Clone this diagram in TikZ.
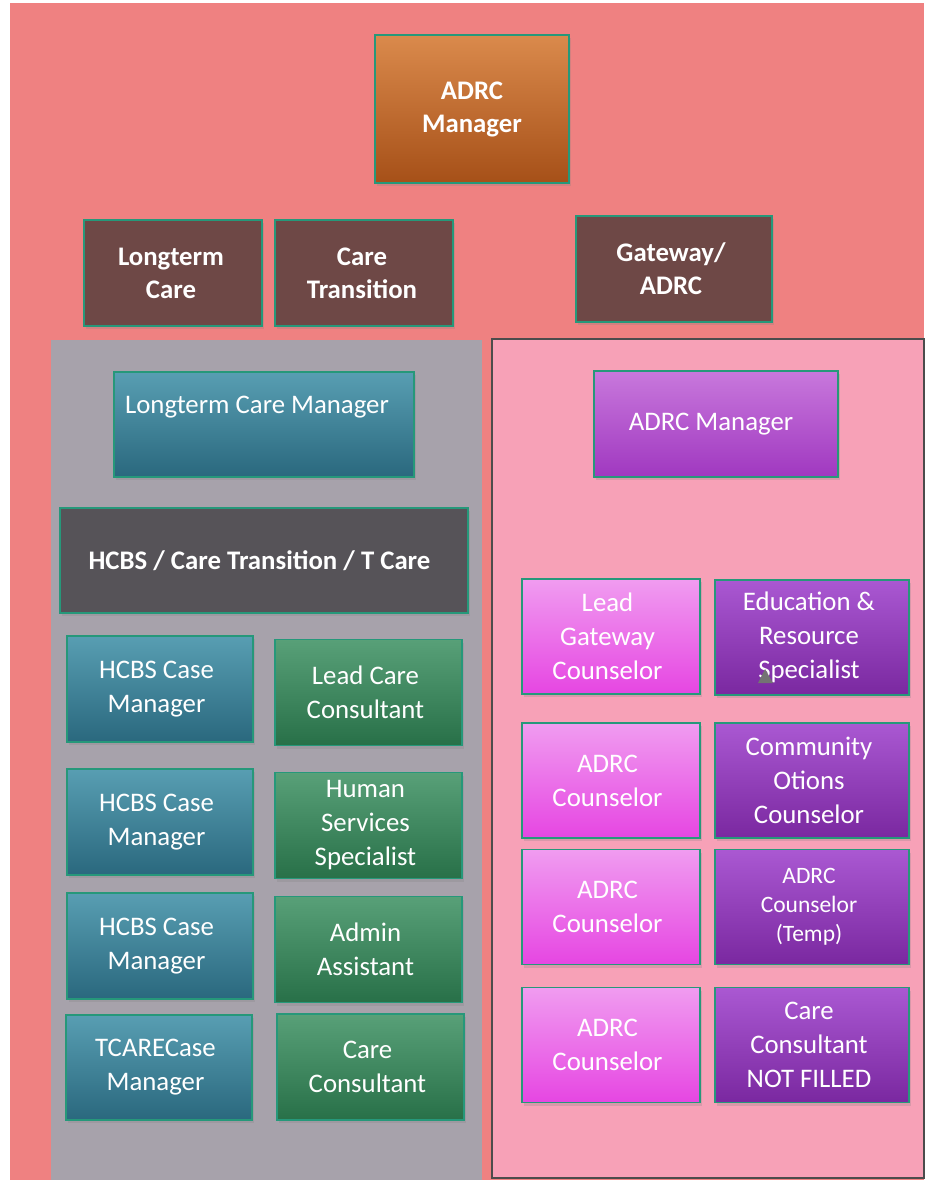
\documentclass[tikz,border=0pt]{standalone}
\usepackage{fontspec}
\setmainfont{Carlito}
\usepackage{tikz}
\usetikzlibrary{shadows}
\definecolor{outerpink}{RGB}{239,129,129}
\definecolor{panelgrey}{RGB}{167,162,171}
\definecolor{panelpink}{RGB}{247,161,183}
\definecolor{boxline}{RGB}{38,152,122}
\definecolor{unitbrown}{RGB}{110,72,70}
\definecolor{bannergrey}{RGB}{86,83,88}
\definecolor{orangetop}{RGB}{218,138,76}
\definecolor{orangebot}{RGB}{166,80,24}
\definecolor{casetop}{RGB}{88,158,178}
\definecolor{casebot}{RGB}{42,104,126}
\definecolor{consulttop}{RGB}{88,160,120}
\definecolor{consultbot}{RGB}{40,112,72}
\definecolor{mgrtop}{RGB}{200,120,220}
\definecolor{mgrbot}{RGB}{160,56,192}
\definecolor{counseltop}{RGB}{240,156,240}
\definecolor{counselbot}{RGB}{230,70,226}
\definecolor{spectop}{RGB}{170,88,210}
\definecolor{specbot}{RGB}{122,40,160}
\tikzstyle{unit}=[draw=boxline, line width=1.5pt, inner sep=0pt, text=white, align=center,
  font=\fontsize{26.8}{34}\selectfont,
  drop shadow={shadow xshift=2pt, shadow yshift=-3pt, opacity=0.25}]
\tikzstyle{head}=[unit, font=\bfseries\fontsize{26.8}{33}\selectfont]
\tikzstyle{dept}=[head, fill=unitbrown, minimum width=178pt, minimum height=106pt]
\tikzstyle{casebox}=[unit, top color=casetop, bottom color=casebot, minimum width=186pt, minimum height=106pt]
\tikzstyle{consultbox}=[unit, top color=consulttop, bottom color=consultbot, minimum width=187pt, minimum height=106pt]
\tikzstyle{counselbox}=[unit, top color=counseltop, bottom color=counselbot, minimum width=178pt, minimum height=115pt]
\tikzstyle{specbox}=[unit, top color=spectop, bottom color=specbot, minimum width=194pt, minimum height=115pt]

\begin{document}
\begin{tikzpicture}[x=1pt, y=-1pt]
      \useasboundingbox [fill=white] (0,0) rectangle (931,1183);
      \fill [outerpink] (10,3) rectangle (924,1180);
      \fill [panelgrey] (51,340) rectangle (482,1180);
      \draw [fill=panelpink, draw=black!70, line width=1.2pt] (492,339) rectangle (924,1178);

      \node [head, top color=orangetop, bottom color=orangebot, minimum width=194pt, minimum height=148pt]
            (top) at (472,109) {ADRC\\Manager};
      \node [dept] (ltc) at (173,273) {Longterm\kern4pt\\Care\kern4pt};
      \node [dept] (ctr) at (364,273) {Care\kern4pt\\Transition\kern4pt};
      \node [dept, minimum width=196pt] (gw) at (674,269) {Gateway/\kern6pt\\ADRC\kern6pt};

      % left side
      \node [casebox, minimum width=300pt, minimum height=105pt,
             label={[text=white, font=\fontsize{26.8}{30}\selectfont, anchor=center, xshift=-7pt, yshift=-36pt]north:Longterm Care Manager}]
            (ltcm) at (264,424.5) {};
      \node [head, fill=bannergrey, minimum width=408pt, minimum height=105pt]
            (hcbs) at (264,560.5) {HCBS / Care Transition / T Care\hspace{9pt}};
      \node [casebox] (cm1) at (160,689) {HCBS Case\kern7pt\\Manager\kern7pt};
      \node [casebox] (cm2) at (160,822) {HCBS Case\kern7pt\\Manager\kern7pt};
      \node [casebox] (cm3) at (160,946) {HCBS Case\kern7pt\\Manager\kern7pt};
      \node [casebox, minimum height=105pt] (tcm) at (159,1067.5) {TCARECase\kern7pt\\Manager\kern7pt};
      \node [consultbox] (lcc) at (368.5,692.5) {Lead Care\kern6pt\\Consultant\kern6pt};
      \node [consultbox] (hss) at (368.5,825.5) {Human\kern6pt\\Services\kern6pt\\Specialist\kern6pt};
      \node [consultbox] (adm) at (368.5,949.5) {Admin\kern6pt\\Assistant\kern6pt};
      \node [consultbox] (cc) at (370.5,1067) {Care\kern6pt\\Consultant\kern6pt};

      % right side
      \node [unit, top color=mgrtop, bottom color=mgrbot, minimum width=244pt, minimum height=106pt]
            (amgr) at (716,424) {ADRC Manager\hspace{10pt}};
      \node [counselbox] (lgc) at (611,636.5) {Lead\kern7pt\\Gateway\kern7pt\\Counselor\kern7pt};
      \node [counselbox] (ac1) at (611,780.5) {ADRC\kern7pt\\Counselor\kern7pt};
      \node [counselbox] (ac2) at (611,907) {ADRC\kern7pt\\Counselor\kern7pt};
      \node [counselbox] (ac3) at (611,1045) {ADRC\kern7pt\\Counselor\kern7pt};
      \node [specbox] (ers) at (812,637.5) {Education \&\kern6pt\\Resource\kern6pt\\Specialist\kern6pt};
      \node [specbox] (coc) at (812,780.5) {Community\kern6pt\\Otions\kern6pt\\Counselor\kern6pt};
      \node [specbox, font=\fontsize{23.5}{29}\selectfont] (act) at (812,907) {ADRC\kern6pt\\Counselor\kern6pt\\(Temp)\kern6pt};
      \node [specbox] (ccn) at (812,1045) {Care\kern6pt\\Consultant\kern6pt\\NOT FILLED\kern6pt};

      \fill [black!55] (758,683) -- (765,669) -- (773,683) -- cycle;
\end{tikzpicture}
\end{document}
